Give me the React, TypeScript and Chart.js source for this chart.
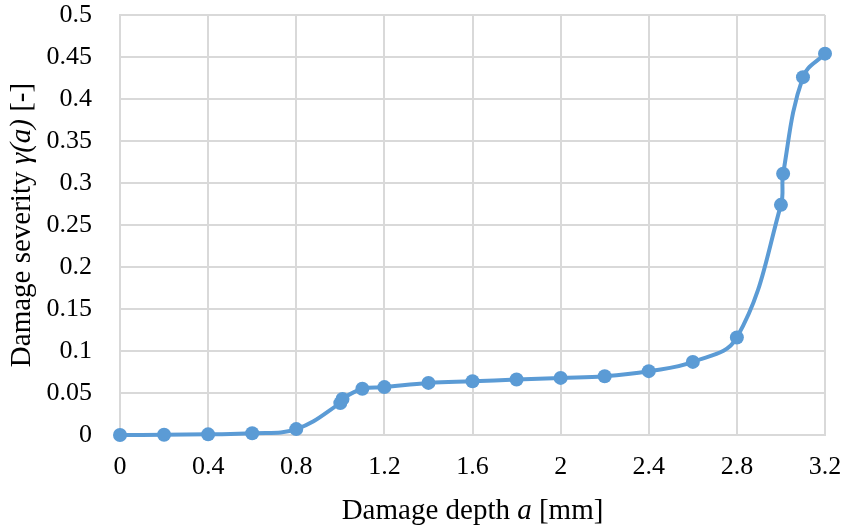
import React, { useEffect, useRef } from "react";
import { Chart, registerables } from "chart.js";

Chart.register(...registerables);

const depth = [0, 0.2, 0.4, 0.6, 0.8, 1.0, 1.01, 1.1, 1.2, 1.4, 1.6, 1.8, 2.0, 2.2, 2.4, 2.6, 2.8, 3.0, 3.01, 3.1, 3.2];
const severity = [0, 0.0003, 0.0008, 0.002, 0.007, 0.038, 0.043, 0.055, 0.057, 0.062, 0.064, 0.066, 0.068, 0.070, 0.076, 0.087, 0.116, 0.274, 0.311, 0.426, 0.454];

const xTitleParts: [string, boolean][] = [["Damage depth ", false], ["a", true], [" [mm]", false]];
const yTitleParts: [string, boolean][] = [["Damage severity ", false], ["γ(a)", true], [" [-]", false]];

const FONT = '"Liberation Serif", "Times New Roman", serif';
const COLOR = "#5B9BD5";

function drawParts(ctx: CanvasRenderingContext2D, parts: [string, boolean][], size: number) {
  const fontOf = (it: boolean) => `${it ? "italic " : ""}${size}px ${FONT}`;
  let total = 0;
  for (const [t, it] of parts) {
    ctx.font = fontOf(it);
    total += ctx.measureText(t).width;
  }
  let x = -total / 2;
  for (const [t, it] of parts) {
    ctx.font = fontOf(it);
    ctx.fillText(t, x, 0);
    x += ctx.measureText(t).width;
  }
}

const titlePlugin = {
  id: "mixedTitles",
  afterDraw(chart: any) {
    const ctx = chart.ctx as CanvasRenderingContext2D;
    const a = chart.chartArea;
    ctx.save();
    ctx.fillStyle = "#000";
    ctx.textBaseline = "middle";
    ctx.textAlign = "left";
    ctx.save();
    ctx.translate((a.left + a.right) / 2, 511);
    drawParts(ctx, xTitleParts, 29);
    ctx.restore();
    ctx.save();
    ctx.translate(22, (a.top + a.bottom) / 2);
    ctx.rotate(-Math.PI / 2);
    drawParts(ctx, yTitleParts, 29);
    ctx.restore();
    ctx.restore();
  },
};

const zeroPad = (s: any) => {
  s.paddingTop = 0;
  s.paddingBottom = 0;
  s.paddingLeft = 0;
  s.paddingRight = 0;
};

export default function App() {
  const ref = useRef<HTMLCanvasElement>(null);
  useEffect(() => {
    document.body.style.margin = "0";
    const chart = new Chart(ref.current!, {
      type: "scatter",
      data: {
        datasets: [
          {
            data: depth.map((x, i) => ({ x, y: severity[i] })),
            showLine: true,
            tension: 0.4,
            clip: false,
            borderColor: COLOR,
            backgroundColor: COLOR,
            borderWidth: 4,
            pointRadius: 7,
            pointBorderWidth: 0,
            pointBackgroundColor: COLOR,
          },
        ],
      },
      options: {
        animation: false,
        responsive: false,
        layout: { padding: { top: 15, right: 21, left: 0, bottom: 0 } },
        plugins: { legend: { display: false }, tooltip: { enabled: false } },
        scales: {
          x: {
            type: "linear",
            min: 0,
            max: 3.2,
            ticks: {
              stepSize: 0.4,
              padding: 17,
              color: "#000",
              font: { family: FONT, size: 26 },
              callback: (v: any) => Number(Number(v).toFixed(2)).toString(),
            },
            grid: { color: "#d9d9d9", lineWidth: 2, drawTicks: false },
            border: { color: "#d9d9d9", width: 2 },
            afterFit: (s: any) => { s.height = 93; zeroPad(s); },
          },
          y: {
            type: "linear",
            min: 0,
            max: 0.5,
            ticks: {
              stepSize: 0.05,
              padding: 28,
              color: "#000",
              font: { family: FONT, size: 26 },
              callback: (v: any) => Number(Number(v).toFixed(2)).toString(),
            },
            grid: { color: "#d9d9d9", lineWidth: 2, drawTicks: false },
            border: { color: "#d9d9d9", width: 2 },
            afterFit: (s: any) => { s.width = 120; zeroPad(s); },
          },
        },
      },
      plugins: [titlePlugin],
    });
    return () => chart.destroy();
  }, []);
  return (
    <div style={{ position: "absolute", left: 0, top: 0, width: 846, height: 528, background: "#fff" }}>
      <canvas ref={ref} width={846} height={528} style={{ display: "block" }} />
    </div>
  );
}
